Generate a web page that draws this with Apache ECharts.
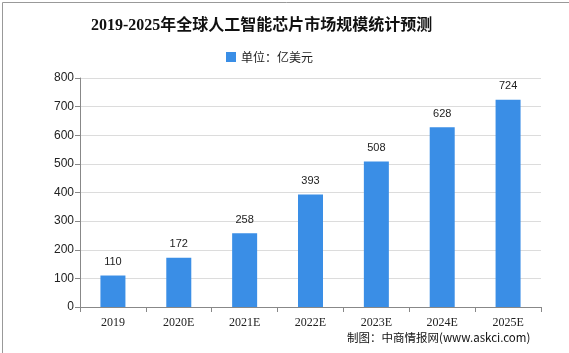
<!DOCTYPE html>
<html>
<head>
<meta charset="utf-8">
<script src="https://cdn.jsdelivr.net/npm/echarts@6/dist/echarts.min.js"></script>
<style>
html, body { margin: 0; padding: 0; background: #fff; }
#main { width: 569px; height: 353px; }
</style>
</head>
<body>
<div id="main"></div>
<script>
var categories = ['2019', '2020E', '2021E', '2022E', '2023E', '2024E', '2025E'];
var marketSize = [110, 172, 258, 393, 508, 628, 724];
var seriesName = '单位：亿美元';
var chartTitle = '2019-2025年全球人工智能芯片市场规模统计预测';
var sourceNote = '制图：中商情报网(www.askci.com)';

var dom = document.getElementById('main');
var myChart = echarts.init(dom, null, { renderer: 'canvas' });

var option = {
  backgroundColor: '#fff',
  animation: false,
  title: {
    text: chartTitle,
    left: 86,
    top: 13,
    textStyle: {
      fontFamily: 'Liberation Serif, Noto Sans CJK SC',
      fontSize: 16,
      fontWeight: 'bold',
      color: '#111'
    }
  },
  legend: {
    top: 46,
    left: 221,
    itemWidth: 10,
    itemHeight: 10,
    itemGap: 4,
    textStyle: { fontSize: 12, color: '#222', fontFamily: 'Noto Sans CJK SC' },
    data: [{ name: seriesName, icon: 'rect' }]
  },
  grid: { left: 80, right: 28, top: 78, bottom: 46 },
  xAxis: {
    type: 'category',
    data: categories,
    axisLine: { lineStyle: { color: '#888' } },
    axisTick: { show: true, lineStyle: { color: '#888' }, length: 5 },
    axisLabel: { color: '#222', fontSize: 12, fontFamily: 'Liberation Serif', margin: 10 }
  },
  yAxis: {
    type: 'value',
    min: 0,
    max: 800,
    interval: 100,
    axisLine: { show: true, lineStyle: { color: '#888' } },
    axisTick: { show: true, lineStyle: { color: '#888' }, length: 5 },
    axisLabel: { color: '#222', fontSize: 12, fontFamily: 'Liberation Sans', margin: 6 },
    splitLine: { lineStyle: { color: '#dcdcdc' } }
  },
  series: [
    {
      name: seriesName,
      type: 'bar',
      data: marketSize,
      barWidth: 25,
      itemStyle: { color: '#3a8ee6' },
      label: {
        show: true,
        position: 'top',
        distance: 8,
        color: '#222',
        fontSize: 11,
        fontFamily: 'Liberation Sans'
      }
    }
  ],
  graphic: [
    {
      type: 'rect',
      left: 0, top: 0,
      shape: { width: 568, height: 351 },
      style: { fill: 'none', stroke: '#999', lineWidth: 1 },
      silent: true
    },
    {
      type: 'text',
      left: 347,
      top: 332,
      style: {
        text: sourceNote,
        fill: '#111',
        fontSize: 11.5,
        fontFamily: 'Noto Sans CJK SC'
      }
    }
  ]
};

if (option && typeof option === 'object') {
  myChart.setOption(option);
}
window.addEventListener('resize', myChart.resize);
</script>
</body>
</html>
